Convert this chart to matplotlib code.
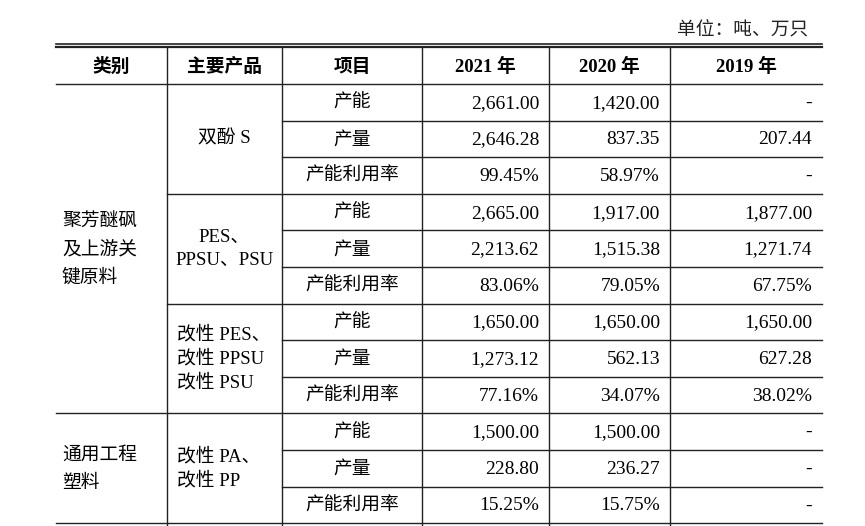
import matplotlib
matplotlib.use("Agg")
import matplotlib.pyplot as plt

categories = ["聚芳醚砜\n及上游关\n键原料", "通用工程\n塑料"]
products = ["双酚 S", "PES、\nPPSU、PSU", "改性 PES、\n改性 PPSU\n改性 PSU", "改性 PA、\n改性 PP"]
items = ["产能", "产量", "产能利用率"]
headers = ["类别", "主要产品", "项目", "2021 年", "2020 年", "2019 年"]
v2021 = ["2,661.00", "2,646.28", "99.45%", "2,665.00", "2,213.62", "83.06%",
         "1,650.00", "1,273.12", "77.16%", "1,500.00", "228.80", "15.25%"]
v2020 = ["1,420.00", "837.35", "58.97%", "1,917.00", "1,515.38", "79.05%",
         "1,650.00", "562.13", "34.07%", "1,500.00", "236.27", "15.75%"]
v2019 = ["-", "207.44", "-", "1,877.00", "1,271.74", "67.75%",
         "1,650.00", "627.28", "38.02%", "-", "-", "-"]

W, H = 865, 526
fig = plt.figure(figsize=(W/100, H/100), dpi=100)
ax = fig.add_axes([0, 0, 1, 1])
ax.set_xlim(0, W); ax.set_ylim(H, 0); ax.axis("off")

cols = [56, 167, 282, 422, 549, 670, 822]
hdr_top, hdr_bot = 47, 84
rh = 36.6
nrows = 12
rows = [hdr_bot + i*rh for i in range(nrows+1)]
lc = "#222222"
cjk = ["Noto Sans CJK SC", "DejaVu Sans"]
ser = ["Liberation Serif", "Noto Sans CJK SC"]
fs = 13.5
ls = 1.45

ax.text(808, 30, "单位：吨、万只", ha="right", va="center", fontsize=fs, family=cjk, color="#222")
ax.plot([cols[0], cols[-1]], [43.5, 43.5], color=lc, lw=1.2)
ax.plot([cols[0], cols[-1]], [46.5, 46.5], color=lc, lw=1.6)
ax.plot([cols[0], cols[-1]], [hdr_bot, hdr_bot], color=lc, lw=1)
for x in cols[1:-1]:
    ax.plot([x, x], [hdr_top, H], color=lc, lw=1)
for i in range(1, nrows+1):
    y = rows[i]
    if i % 3 == 0:
        x0 = cols[0] if i in (9, 12) else cols[1]
    else:
        x0 = cols[2]
    ax.plot([x0, cols[-1]], [y, y], color=lc, lw=1)

for j, h in enumerate(headers):
    ax.text((cols[j]+cols[j+1])/2, (hdr_top+hdr_bot)/2+1, h, ha="center", va="center",
            fontsize=fs, fontweight="bold", family=ser if j >= 3 else cjk)

def ymid(r0, r1):
    return (rows[r0]+rows[r1])/2

ax.text(62, ymid(0, 9), categories[0], ha="left", va="center", fontsize=fs, family=cjk, linespacing=ls)
ax.text(62, ymid(9, 12), categories[1], ha="left", va="center", fontsize=fs, family=cjk, linespacing=ls)
ax.text((cols[1]+cols[2])/2, ymid(0, 3), products[0], ha="center", va="center", fontsize=fs, family=ser)
ax.text((cols[1]+cols[2])/2, ymid(3, 6), products[1], ha="center", va="center", fontsize=fs, family=ser, linespacing=ls)
ax.text(177, ymid(6, 9), products[2], ha="left", va="center", fontsize=fs, family=ser, linespacing=ls)
ax.text(177, ymid(9, 12), products[3], ha="left", va="center", fontsize=fs, family=ser, linespacing=ls)

for i in range(nrows):
    y = ymid(i, i+1)
    ax.text((cols[2]+cols[3])/2, y, items[i % 3], ha="center", va="center", fontsize=fs, family=cjk)
    for k, vals in enumerate([v2021, v2020, v2019]):
        ax.text(cols[4+k]-10, y + 1, vals[i], ha="right", va="center", fontsize=fs+0.5, family=ser)

fig.savefig("out.png", dpi=100)
